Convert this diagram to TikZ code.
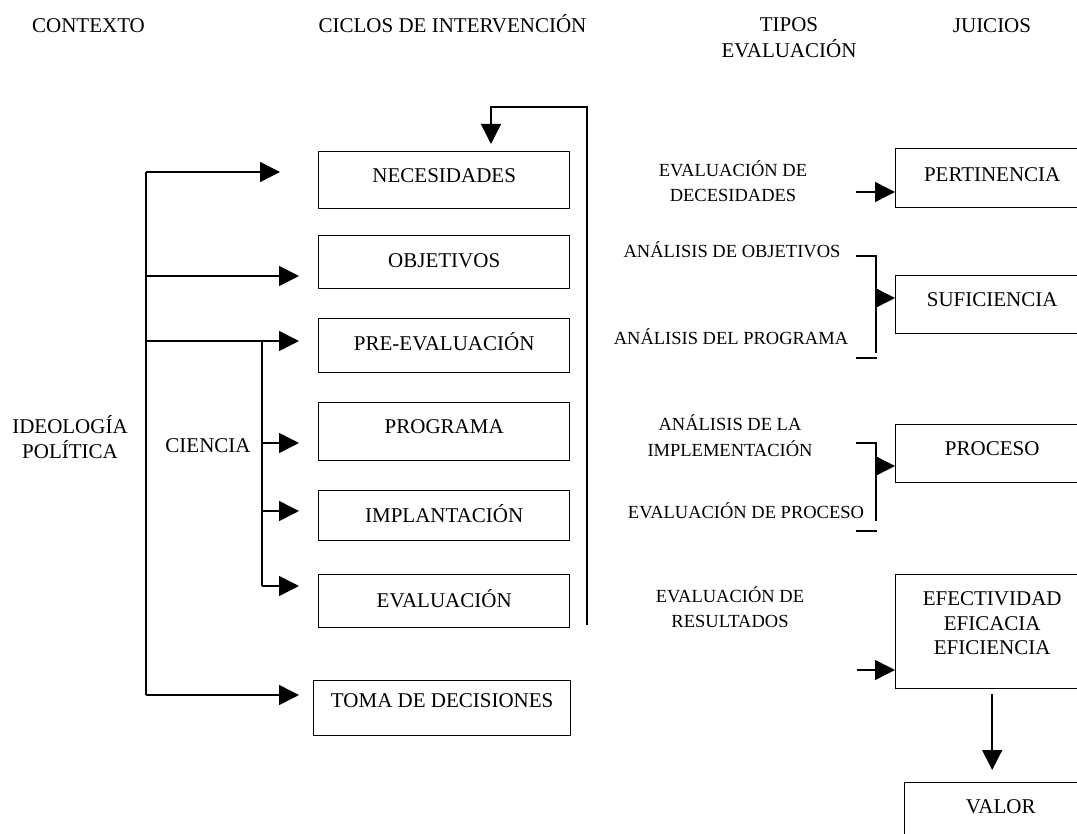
\documentclass[tikz,border=0pt]{standalone}
\usepackage{fontspec}
\setmainfont{Liberation Serif}
\usetikzlibrary{arrows.meta}
\newcommand\lgtxt{\fontsize{21}{25}\selectfont}
\newcommand\smtxt{\fontsize{18.5}{25}\selectfont}
\newcommand\twoline[1]{\begin{tabular}[t]{@{}c@{}}#1\end{tabular}}
\begin{document}
\begin{tikzpicture}[x=1pt,y=-1pt,
  box/.style={draw, line width=1.4pt, inner sep=0pt, anchor=north west, font=\lgtxt},
  head/.style={font=\lgtxt, anchor=base, inner sep=0pt},
  lbl/.style={font=\smtxt, anchor=base, inner sep=0pt},
  wire/.style={line width=1.5pt},
  arr/.style={wire, -{Triangle[length=20pt,width=20pt]}},
]
\useasboundingbox (0,0) rectangle (1077,834);
\clip (0,0) rectangle (1077,834);

% column headings
\node[head] (hctx) at (88.5,33) {CONTEXTO};
\node[head] (hcic) at (452.5,33) {CICLOS DE INTERVENCIÓN};
\node[head, font=\fontsize{21}{26}\selectfont] (htip) at (789,32) {\twoline{TIPOS\\EVALUACIÓN}};
\node[head] (hjui) at (992,33) {JUICIOS};

% intervention cycle
\node[box, minimum width=251pt, text height=31pt, text depth=26pt] (nec)  at (318,151) {NECESIDADES};
\node[box, minimum width=251pt, text height=32pt, text depth=21pt] (obj)  at (318,235) {OBJETIVOS};
\node[box, minimum width=251pt, text height=32pt, text depth=22pt] (pre)  at (318,318) {PRE-EVALUACIÓN};
\node[box, minimum width=251pt, text height=31pt, text depth=27pt] (prog) at (318,402) {PROGRAMA};
\node[box, minimum width=251pt, text height=32pt, text depth=18pt] (impl) at (318,490) {IMPLANTACIÓN};
\node[box, minimum width=251pt, text height=33pt, text depth=20pt] (eval) at (318,574) {EVALUACIÓN};
\node[box, minimum width=257pt, text height=27pt, text depth=28pt] (toma) at (313,680) {TOMA DE DECISIONES};

% context
\node[head] (ideo) at (70,433) {\twoline{IDEOLOGÍA\\POLÍTICA}};
\node[head] (cien) at (208,453) {CIENCIA};

% types of evaluation
\node[lbl] (tnec)  at (733,177) {\twoline{EVALUACIÓN DE\\DECESIDADES}};
\node[lbl] (tobj)  at (732,258) {ANÁLISIS DE OBJETIVOS};
\node[lbl] (tprog) at (731,345) {ANÁLISIS DEL PROGRAMA};
\node[lbl] (timpl) at (730,431) {\twoline{ANÁLISIS DE LA\\IMPLEMENTACIÓN}};
\node[lbl] (tproc) at (746,518) {EVALUACIÓN DE PROCESO};
\node[lbl] (tres)  at (730,602) {\twoline{EVALUACIÓN DE\\RESULTADOS}};

% judgements
\node[box, minimum width=193pt, text height=33pt, text depth=26pt] (pert) at (895,148) {PERTINENCIA};
\node[box, minimum width=193pt, text height=31pt, text depth=27pt] (suf)  at (895,275) {SUFICIENCIA};
\node[box, minimum width=193pt, text height=31pt, text depth=27pt] (proc) at (895,424) {PROCESO};
\node[box, minimum width=193pt, text height=31pt, text depth=83pt, font=\fontsize{21}{24.5}\selectfont] (efe) at (895,574)
  {\twoline{EFECTIVIDAD\\EFICACIA\\EFICIENCIA}};
\node[box, minimum width=192pt, text height=31pt, text depth=32pt] (valor) at (904,782) {VALOR};

% context trunk and branches
\coordinate (trunkTop) at (146,172);
\coordinate (jObj) at (146,276);
\coordinate (jPre) at (146,341);
\coordinate (trunkBot) at (146,695);
\draw[wire] (trunkTop) -- (trunkBot);
\draw[arr, shorten >=38pt] (trunkTop) -- (trunkTop -| nec.west);
\draw[arr, shorten >=19pt] (jObj) -- (jObj -| obj.west);
\draw[arr, shorten >=19pt] (jPre) -- (jPre -| pre.west);
\draw[arr, shorten >=14pt] (trunkBot) -- (trunkBot -| toma.west);

% science branch
\coordinate (sciTop) at (262,341);
\coordinate (jProg) at (262,443);
\coordinate (jImpl) at (262,511);
\coordinate (sciBot) at (262,586);
\draw[wire] (sciTop) -- (sciBot);
\draw[arr, shorten >=19pt] (jProg) -- (jProg -| prog.west);
\draw[arr, shorten >=19pt] (jImpl) -- (jImpl -| impl.west);
\draw[arr, shorten >=19pt] (sciBot) -- (sciBot -| eval.west);

% feedback loop
\coordinate (loopB) at (587,625);
\coordinate (loopT) at (587,107);
\coordinate (loopE) at (491,120);
\draw[arr, shorten >=7pt] (loopB) -- (loopT) -| (loopE |- nec.north);

% judgement inputs
\coordinate (pIn) at (856,192);
\draw[arr] (pIn) -- (pIn -| pert.west);

\coordinate (b1t) at (856,256);
\coordinate (b1v) at (876,353);
\coordinate (b1a) at (856,358);
\coordinate (b1b) at (877,358);
\coordinate (b1m) at (876,298);
\draw[wire] (b1t) -| (b1v);
\draw[wire] (b1a) -- (b1b);
\draw[arr] (b1m) -- (b1m -| suf.west);

\coordinate (b2t) at (856,443);
\coordinate (b2v) at (876,521);
\coordinate (b2a) at (856,531);
\coordinate (b2b) at (877,531);
\coordinate (b2m) at (876,466);
\draw[wire] (b2t) -| (b2v);
\draw[wire] (b2a) -- (b2b);
\draw[arr] (b2m) -- (b2m -| proc.west);

\coordinate (eIn) at (857,670);
\draw[arr] (eIn) -- (eIn -| efe.west);

\draw[arr, shorten <=5pt, shorten >=12pt] (efe.south) -- (efe.south |- valor.north);
\end{tikzpicture}
\end{document}
